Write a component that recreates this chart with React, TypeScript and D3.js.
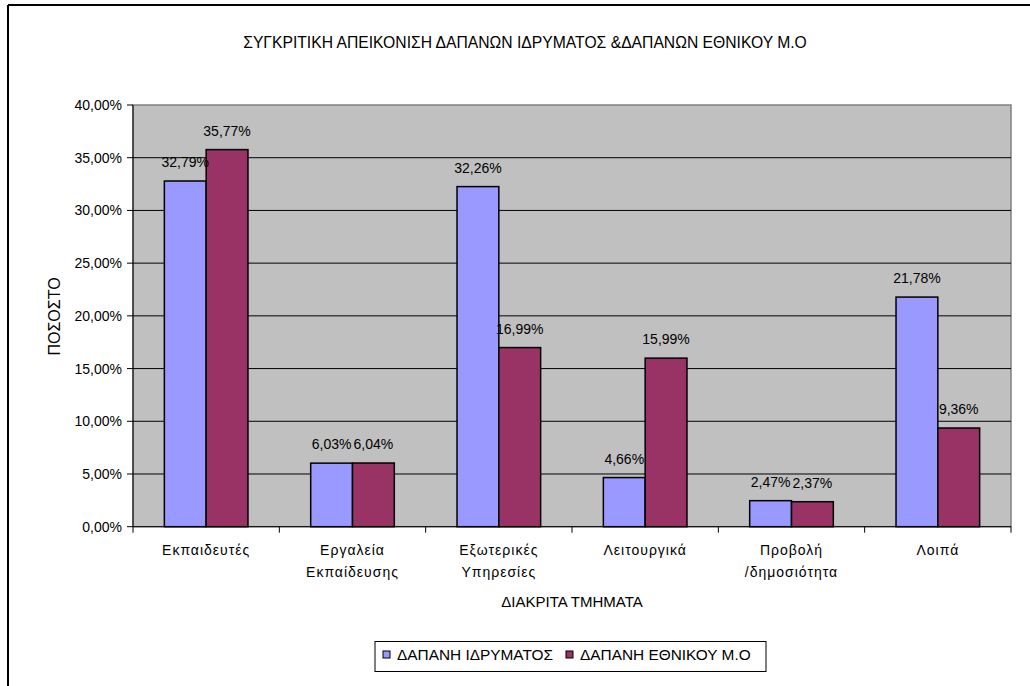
import React from "react";
import * as d3 from "d3";

const categories: string[][] = [
  ["Εκπαιδευτές"],
  ["Εργαλεία", "Εκπαίδευσης"],
  ["Εξωτερικές", "Υπηρεσίες"],
  ["Λειτουργικά"],
  ["Προβολή", "/δημοσιότητα"],
  ["Λοιπά"],
];
const seriesNames = ["ΔΑΠΑΝΗ ΙΔΡΥΜΑΤΟΣ", "ΔΑΠΑΝΗ ΕΘΝΙΚΟΥ Μ.Ο"];
const institutionValues = [32.79, 6.03, 32.26, 4.66, 2.47, 21.78];
const nationalValues = [35.77, 6.04, 16.99, 15.99, 2.37, 9.36];
const yTicks = [0, 5, 10, 15, 20, 25, 30, 35, 40];
const colors = ["#9999FF", "#993366"];

const FONT = "'Liberation Sans', Arial, sans-serif";

export default function App() {
  const W = 1030, H = 686;
  const left = 133, right = 1011, top = 105, bottom = 526.7;
  const keys = categories.map((_, i) => String(i));
  const x0 = d3.scaleBand<string>().domain(keys).range([left, right]).padding(0);
  const x1 = d3.scaleBand<string>().domain(["0", "1"]).range([0, x0.bandwidth()]).paddingInner(0).paddingOuter(0.75);
  const y = d3.scaleLinear().domain([0, 40]).range([bottom, top]);
  const fmt = (v: number) => d3.format(".2f")(v).replace(".", ",") + "%";
  const series = [institutionValues, nationalValues];

  return (
    <svg width={W} height={H} style={{ position: "absolute", left: 0, top: 0, background: "#fff" }} fontFamily={FONT}>
      <rect x={0} y={0} width={W} height={H} fill="#fff" />
      {/* frame */}
      <line x1={8} y1={5} x2={W} y2={5} stroke="#000" strokeWidth={2} />
      <line x1={8} y1={5} x2={8} y2={H} stroke="#000" strokeWidth={2} />

      <text x={525} y={48} textAnchor="middle" fontSize={15.7} fill="#000">
        ΣΥΓΚΡΙΤΙΚΗ ΑΠΕΙΚΟΝΙΣΗ ΔΑΠΑΝΩΝ ΙΔΡΥΜΑΤΟΣ &amp;ΔΑΠΑΝΩΝ ΕΘΝΙΚΟΥ Μ.Ο
      </text>

      {/* plot area */}
      <rect x={left} y={top} width={right - left} height={bottom - top} fill="#C0C0C0" stroke="#808080" strokeWidth={1.5} />
      {yTicks.filter(t => t > 0 && t < 40).map(t => (
        <line key={t} x1={left} x2={right} y1={y(t)} y2={y(t)} stroke="#000" strokeWidth={1} />
      ))}

      {/* bars */}
      {series.map((vals, s) =>
        vals.map((v, i) => (
          <rect
            key={`${s}-${i}`}
            x={(x0(String(i)) as number) + (x1(String(s)) as number)}
            y={y(v)}
            width={x1.bandwidth()}
            height={bottom - y(v)}
            fill={colors[s]}
            stroke="#000"
            strokeWidth={1.5}
          />
        ))
      )}

      {/* data labels */}
      {series.map((vals, s) =>
        vals.map((v, i) => (
          <text
            key={`l${s}-${i}`}
            x={(x0(String(i)) as number) + (x1(String(s)) as number) + x1.bandwidth() / 2}
            y={y(v) - 14}
            textAnchor="middle"
            fontSize={14}
            fill="#000"
          >
            {fmt(v)}
          </text>
        ))
      )}

      {/* axes */}
      <line x1={left} x2={left} y1={top} y2={bottom} stroke="#000" strokeWidth={1} />
      <line x1={left} x2={right} y1={bottom} y2={bottom} stroke="#000" strokeWidth={1} />
      {yTicks.map(t => (
        <g key={`yt${t}`}>
          <line x1={left - 6} x2={left} y1={y(t)} y2={y(t)} stroke="#000" />
          <text x={122} y={y(t) + 5} textAnchor="end" fontSize={14} fill="#000">
            {fmt(t)}
          </text>
        </g>
      ))}
      {d3.range(categories.length + 1).map(i => {
        const xx = left + i * x0.step();
        return <line key={`xt${i}`} x1={xx} x2={xx} y1={bottom} y2={bottom + 6} stroke="#000" />;
      })}
      {categories.map((lines, i) => (
        <text key={`c${i}`} x={(x0(String(i)) as number) + x0.bandwidth() / 2} textAnchor="middle" fontSize={14} letterSpacing={1} fill="#000">
          {lines.map((ln, j) => (
            <tspan key={j} x={(x0(String(i)) as number) + x0.bandwidth() / 2} y={555 + j * 22}>
              {ln}
            </tspan>
          ))}
        </text>
      ))}

      <text x={(left + right) / 2} y={607} textAnchor="middle" fontSize={15} fill="#000">
        ΔΙΑΚΡΙΤΑ ΤΜΗΜΑΤΑ
      </text>
      <text transform="translate(60,316.5) rotate(-90)" textAnchor="middle" fontSize={16} fill="#000">
        ΠΟΣΟΣΤΟ
      </text>

      {/* legend */}
      <rect x={375} y={641.5} width={391} height={30} fill="#fff" stroke="#000" strokeWidth={1} />
      {seriesNames.map((n, s) => {
        const lx = s === 0 ? 383 : 566;
        return (
          <g key={`lg${s}`}>
            <rect x={lx} y={651} width={7} height={7} fill={colors[s]} stroke="#000" strokeWidth={1} />
            <text x={lx + 14} y={660} fontSize={15.4} fill="#000">{n}</text>
          </g>
        );
      })}
    </svg>
  );
}
